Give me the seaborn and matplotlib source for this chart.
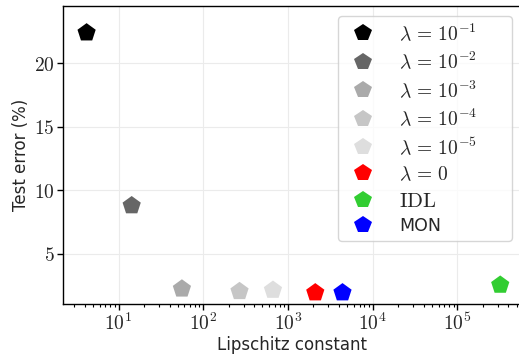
import numpy as np
import pandas as pd
import seaborn as sns
import matplotlib
matplotlib.use("Agg")
import matplotlib.pyplot as plt


#%% data
Labels = [r"$\lambda \,=\, 10^{-1}$", r"$\lambda \,=\, 10^{-2}$", r"$\lambda \,=\, 10^{-3}$",
          r"$\lambda \,=\, 10^{-4}$", r"$\lambda \,=\, 10^{-5}$", r"$\lambda \,=\, 0$",
          r"$\mathrm{IDL}$", "MON"]

Lipschitz = [4.2, 14.3, 56, 268, 665, 2100, 3.2e5, 4400]

TestError = [22.4, 8.8, 2.25, 2.05, 2.15, 1.95, 2.55, 1.95]

Colors = ["#000000", "#666666", "#aaaaaa", "#c6c6c6", "#dedede",
          "#ff0000", "#32cd32", "#0000ff"]


df = pd.DataFrame(data = {"Lipschitz": Lipschitz,
                          "TestError": TestError,
                          "Model": Labels})


#%% plot
sns.set_style("whitegrid")
plt.rcParams["mathtext.fontset"] = "cm"
plt.rcParams["font.family"] = ["DejaVu Sans"]

Fig = plt.figure(figsize = [5.19, 3.54], dpi = 100)
ax = plt.axes([0.121, 0.141, 0.885, 0.842])

ax = sns.scatterplot(ax = ax,
                     data = df,
                     x = "Lipschitz",
                     y = "TestError",
                     hue = "Model",
                     palette = Colors,
                     marker = "p",
                     s = 190,
                     edgecolor = "none",
                     zorder = 3)

ax.set_xscale("log")
ax.set_xlim(2.2, 5.8e5)
ax.set_ylim(1.05, 24.5)
ax.set_yticks([5, 10, 15, 20])
ax.set_yticklabels([r"$5$", r"$10$", r"$15$", r"$20$"], fontsize = 14)
ax.set_xticks([1e1, 1e2, 1e3, 1e4, 1e5])
ax.set_xticklabels([r"$10^{1}$", r"$10^{2}$", r"$10^{3}$", r"$10^{4}$", r"$10^{5}$"], fontsize = 14)

ax.set_xlabel("Lipschitz constant", fontsize = 12, labelpad = 2)
ax.set_ylabel("Test error (%)", fontsize = 12, labelpad = 3)

ax.grid(True, which = "major", color = "#ebebeb", linewidth = 0.8)
ax.grid(False, which = "minor")

for s in ["left", "bottom", "top", "right"]:
    ax.spines[s].set_color("black")
    ax.spines[s].set_linewidth(1.0)

ax.tick_params(which = "major", direction = "out", length = 4, width = 1, pad = 2,
               bottom = True, left = True, color = "black")
ax.tick_params(which = "minor", direction = "out", length = 2, width = 0.8, bottom = True, color = "black")

leg = ax.legend(loc = "upper left", fontsize = 14, markerscale = 0.95,
                frameon = True, borderpad = 0.3, labelspacing = 0.35,
                handletextpad = 0.85, mode = "expand", borderaxespad = 0,
                bbox_to_anchor = (0.599, 0.0, 0.379, 0.966))
leg.get_frame().set_edgecolor("#cccccc")
for t in leg.get_texts():
    if t.get_text() == "MON":
        t.set_fontsize(12.5)
    if "IDL" in t.get_text():
        t.set_fontsize(15)

plt.savefig("out.png", dpi = 100)
